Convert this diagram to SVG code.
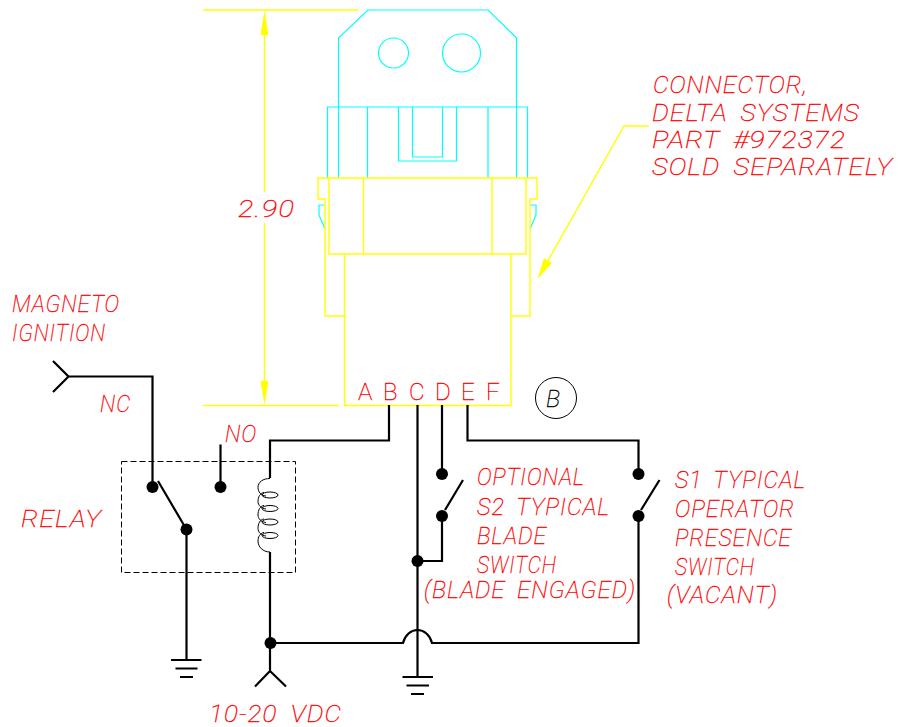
<svg xmlns="http://www.w3.org/2000/svg" width="899" height="727" viewBox="0 0 899 727">
<style>
.c{fill:none;stroke:#00ffff;stroke-width:1.2}
.y{fill:none;stroke:#ffff00;stroke-width:1.4}
.yf{fill:#ffff00;stroke:none}
.w{fill:none;stroke:#000;stroke-width:2.200}
.t{fill:none;stroke:#000;stroke-width:1}
.d{fill:#000;stroke:none}
text{font-family:"Roboto","Liberation Sans",sans-serif;font-weight:100;font-size:24px;fill:#ff0000;stroke:#ff0000;stroke-width:.35;font-style:italic;letter-spacing:1px;word-spacing:5px}
.u{font-style:normal}
</style>
<rect width="899" height="727" fill="#fff"/>
<g id="connector-body">
<path class="c" d="M338.500 178V38L368 10H488L516.500 38V178"/>
<circle class="c" cx="393.500" cy="53" r="15"/>
<circle class="c" cx="461.500" cy="53" r="19"/>
<path class="c" d="M327.500 178V107H527.500V178M367.500 107V178M488 107V178M398.500 107V161H456.500V107M412.500 107V157H442.500V107"/>
<path class="c" d="M325 205H319V215L325 229M530 205H536V215L530 229"/>
<path class="y" d="M325 316V199H318V178H537V199H530V316H511M325 316H344.500"/>
<path class="y" d="M329 178V254H526V178M363.500 178V254M492 178V254"/>
<path class="y" d="M344.500 254V405.500H511V254"/>
</g>
<g id="dimension">
<path class="y" d="M203 10H358M203 405.500H339M264.500 33V192M264.500 223V383"/>
<path class="yf" d="M264.500 10L268.500 35H260.500ZM264.500 405L268.500 381H260.500Z"/>
<text x="238" y="217" textLength="57" lengthAdjust="spacingAndGlyphs">2.90</text>
</g>
<g id="leader">
<path class="y" d="M648.500 126H624L541 273"/>
<path class="yf" d="M537.500 279L544 258L552 263Z"/>
<text x="653" y="93" textLength="155" lengthAdjust="spacingAndGlyphs">CONNECTOR,</text>
<text x="652" y="121" textLength="208" lengthAdjust="spacingAndGlyphs">DELTA SYSTEMS</text>
<text x="652" y="148" textLength="194" lengthAdjust="spacingAndGlyphs">PART #972372</text>
<text x="652" y="175" textLength="241" lengthAdjust="spacingAndGlyphs">SOLD SEPARATELY</text>
</g>
<g id="pins">
<text class="u" x="358" y="400">A</text>
<text class="u" x="383" y="400">B</text>
<text class="u" x="409" y="400">C</text>
<text class="u" x="435" y="400">D</text>
<text class="u" x="461" y="400">E</text>
<text class="u" x="486" y="400">F</text>
</g>
<g id="callout-b">
<circle class="t" cx="556" cy="398" r="20.500"/>
<text x="546" y="407" style="fill:#000;stroke:#000">B</text>
</g>
<g id="connectors">
<path class="w" d="M53 361L68.500 376.500L53 392M68.500 376.500H152.500V487"/>
<path class="w" d="M158 481L186.500 529.500V660"/>
<path class="w" d="M220.500 444.500V487"/>
<path class="w" d="M389 405V440.500H270V478"/>
<path class="w" d="M270 552V671M270 671L255 686.500M270 671L286 686.500"/>
<path class="w" d="M270 643H403C405 635 411 630 417.500 630C424 630 430 635 432 643H638.500V516"/>
<path class="w" d="M417.500 405V677M417.500 561H442V516M442 405V474M445 510L463 480"/>
<path class="w" d="M467.500 405V440.500H638.500V474M641 510L659.500 480"/>
<path class="w" d="M171 660H201.500M175.500 668.500H197.500M180 677H193M402.500 677H433M406.500 685.500H429M411 694H424"/>
<path class="t" stroke-dasharray="6 3" d="M121.500 461.500H295.500V572.500H121.500Z"/>
<path class="t" d="M270 478.500C263 478.500 258 482 258 487.500C258 492 261 495.500 266 496M264 492.500C260 493 258 497 258 501.500C258 505 261 508.500 266 509M264 505.500C260 506 258 510 258 515C258 518.500 261 522 266 522.500M264 519C260 519.500 258 523.500 258 528.500C258 532 261 535.500 266 536M264 532.500C260 533 258 537 258 541C258 547 263 552 270 552"/>
<ellipse class="t" cx="270" cy="495" rx="8" ry="3"/>
<ellipse class="t" cx="270" cy="508.500" rx="8" ry="3"/>
<ellipse class="t" cx="270" cy="522" rx="8" ry="3"/>
<ellipse class="t" cx="270" cy="535.500" rx="8" ry="3"/>
</g>
<g id="dots">
<circle class="d" cx="152.500" cy="487" r="6"/>
<circle class="d" cx="220.500" cy="487" r="6"/>
<circle class="d" cx="186.500" cy="529.500" r="6"/>
<circle class="d" cx="270.500" cy="643" r="6"/>
<circle class="d" cx="417.500" cy="561" r="6"/>
<circle class="d" cx="442" cy="474" r="6"/>
<circle class="d" cx="442" cy="516" r="6"/>
<circle class="d" cx="638.500" cy="474" r="6"/>
<circle class="d" cx="638.500" cy="516" r="6"/>
</g>
<g id="labels">
<text x="12" y="312" textLength="108" lengthAdjust="spacingAndGlyphs">MAGNETO</text>
<text x="12" y="341" textLength="94" lengthAdjust="spacingAndGlyphs">IGNITION</text>
<text x="100" y="412" textLength="31" lengthAdjust="spacingAndGlyphs">NC</text>
<text x="225" y="442" textLength="32" lengthAdjust="spacingAndGlyphs">NO</text>
<text x="21" y="527" textLength="81" lengthAdjust="spacingAndGlyphs">RELAY</text>
<text x="477" y="485" textLength="108" lengthAdjust="spacingAndGlyphs">OPTIONAL</text>
<text x="477" y="515" textLength="133" lengthAdjust="spacingAndGlyphs">S2 TYPICAL</text>
<text x="477" y="544" textLength="70" lengthAdjust="spacingAndGlyphs">BLADE</text>
<text x="477" y="573" textLength="80" lengthAdjust="spacingAndGlyphs">SWITCH</text>
<text x="424" y="598" textLength="212" lengthAdjust="spacingAndGlyphs">(BLADE ENGAGED)</text>
<text x="675" y="488" textLength="131" lengthAdjust="spacingAndGlyphs">S1 TYPICAL</text>
<text x="675" y="517" textLength="120" lengthAdjust="spacingAndGlyphs">OPERATOR</text>
<text x="675" y="546" textLength="117" lengthAdjust="spacingAndGlyphs">PRESENCE</text>
<text x="675" y="575" textLength="80" lengthAdjust="spacingAndGlyphs">SWITCH</text>
<text x="667" y="603" textLength="111" lengthAdjust="spacingAndGlyphs">(VACANT)</text>
<text x="209" y="721.500" textLength="133" lengthAdjust="spacingAndGlyphs" style="font-size:23px">10-20 VDC</text>
</g>
</svg>
